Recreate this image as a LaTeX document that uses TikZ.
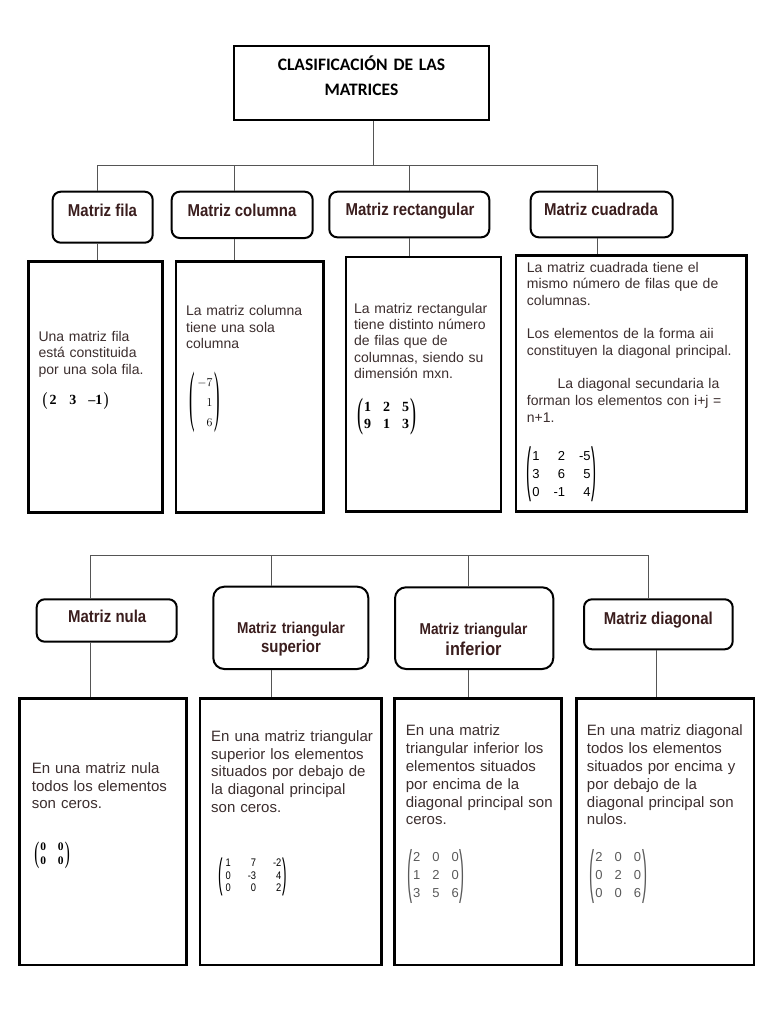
\documentclass[tikz,border=0pt]{standalone}
\usepackage[no-math]{fontspec}
\usepackage{graphicx}
\setmainfont{Liberation Sans}
\newfontfamily\titlef{Carlito}
\newfontfamily\labf{Liberation Sans}[FakeStretch=0.87]
\newfontfamily\narrowf{Liberation Sans}[FakeStretch=0.85]
\newfontfamily\serf{Liberation Serif}
\usetikzlibrary{calc}
\definecolor{txt}{HTML}{3C2E2E}
\definecolor{lab}{HTML}{3A1D1D}
\definecolor{conncol}{HTML}{555555}
\definecolor{lightm}{HTML}{5A5A5A}
% #1 total height of parentheses, #2 their width, #3 content
\newcommand\mparen[3]{$\vcenter{\hbox{\resizebox*{#2}{#1}{\mdseries(}}}\vcenter{\hbox{#3}}\vcenter{\hbox{\resizebox*{#2}{#1}{\mdseries)}}}$}
\newsavebox\bxA \newsavebox\bxB \newsavebox\bxC \newsavebox\bxD
\newsavebox\bxE \newsavebox\bxF \newsavebox\bxG \newsavebox\bxH
\tikzset{
 connline/.style={draw=conncol, line width=0.9pt},
 titlebox/.style={draw=black, line width=2.4pt, rectangle, inner sep=0pt},
 labbox/.style={draw=black, line width=2pt, rounded corners=8pt, rectangle, inner sep=0pt},
 descbox/.style={draw=black, line width=2.5pt, rectangle, inner sep=0pt},
 labtext/.style={text=lab, font=\labf\bfseries\fontsize{17.2}{20}\selectfont, inner sep=0pt, anchor=base, align=center},
 desctop/.style={text=txt, font=\fontsize{14}{16.7}\selectfont, inner sep=0pt, anchor=base west, align=left},
 descbot/.style={text=txt, font=\fontsize{15}{17.85}\selectfont, inner sep=0pt, anchor=base west, align=left},
 matnode/.style={inner sep=0pt},
}
\begin{document}
\sbox\bxA{\serf\bfseries\fontsize{14}{16}\selectfont\mparen{17pt}{5pt}{\begin{tabular}{@{\hspace{2pt}}c@{\hspace{13pt}}c@{\hspace{12pt}}c@{\hspace{1pt}}}2&3&–1\end{tabular}}}%
\sbox\bxB{\serf\fontsize{13}{16}\selectfont\renewcommand\arraystretch{1.25}\mparen{61pt}{5.5pt}{$\begin{array}{@{\hspace{2pt}}r@{\hspace{2pt}}}-7\\1\\6\end{array}$}}%
\sbox\bxC{\serf\bfseries\fontsize{14}{17}\selectfont\mparen{37pt}{6pt}{\begin{tabular}{@{\hspace{1pt}}c@{\hspace{12pt}}c@{\hspace{12pt}}c@{\hspace{1pt}}}1&2&5\\9&1&3\end{tabular}}}%
\sbox\bxD{\fontsize{13}{18}\selectfont\mparen{55pt}{5pt}{\begin{tabular}{@{\hspace{1pt}}l@{\hspace{14pt}}r@{\hspace{14pt}}r@{\hspace{1pt}}}1&2&-5\\3&6&5\\0&-1&4\end{tabular}}}%
\sbox\bxE{\serf\bfseries\fontsize{11.5}{13.5}\selectfont\mparen{27pt}{5pt}{\begin{tabular}{@{\hspace{1pt}}c@{\hspace{12pt}}c@{\hspace{1pt}}}0&0\\0&0\end{tabular}}}%
\sbox\bxF{\narrowf\fontsize{11}{12.8}\selectfont\mparen{38pt}{4.5pt}{\begin{tabular}{@{\hspace{3pt}}l@{\hspace{17pt}}r@{\hspace{17pt}}r@{\hspace{1pt}}}1&7&-2\\0&-3&4\\0&0&2\end{tabular}}}%
\sbox\bxG{\color{lightm}\fontsize{13}{18}\selectfont\mparen{54pt}{5pt}{\begin{tabular}{@{\hspace{1pt}}c@{\hspace{12pt}}c@{\hspace{12pt}}c@{\hspace{1pt}}}2&0&0\\1&2&0\\3&5&6\end{tabular}}}%
\sbox\bxH{\color{lightm}\fontsize{13}{18}\selectfont\mparen{54pt}{5pt}{\begin{tabular}{@{\hspace{1pt}}c@{\hspace{12pt}}c@{\hspace{12pt}}c@{\hspace{1pt}}}2&0&0\\0&2&0\\0&0&6\end{tabular}}}%
\begin{tikzpicture}[x=1pt,y=-1pt]
\fill[white] (0,0) rectangle (768,1024);
\useasboundingbox (0,0) rectangle (768,1024);

% ---------- title ----------
\node[titlebox, minimum width=255pt, minimum height=74pt] (title) at (361.5,83) {};
\node[inner sep=0pt, anchor=base, text width=250pt, align=center, text=black, font=\titlef\bfseries\fontsize{17.5}{24.5}\selectfont] (titleT) at (361.5,71) {CLASIFICACIÓN DE LAS\\MATRICES};

% ---------- top label boxes ----------
\node[labbox, minimum width=100pt, minimum height=51pt] (fila) at (102.7,217.2) {};
\node[labbox, minimum width=141pt, minimum height=46.3pt] (colu) at (242.2,214.85) {};
\node[labbox, minimum width=160pt, minimum height=45.6pt] (rect) at (409.3,214.5) {};
\node[labbox, minimum width=142pt, minimum height=45.6pt] (cuad) at (601.7,214.5) {};
\node[labtext] (filaT) at (102.5,216.1) {Matriz fila};
\node[labtext] (coluT) at (242,216.1) {Matriz columna};
\node[labtext] (rectT) at (410,215.1) {Matriz rectangular};
\node[labtext] (cuadT) at (601,215.1) {Matriz cuadrada};

% ---------- top description boxes ----------
\node[descbox, minimum width=134.4pt, minimum height=250.8pt] (d1) at (95.5,387.1) {};
\node[descbox, minimum width=147.3pt, minimum height=250.8pt] (d2) at (249.65,387.1) {};
\node[descbox, minimum width=155pt, minimum height=254.7pt] (d3) at (423.5,384.35) {};
\node[descbox, minimum width=230.7pt, minimum height=256.2pt] (d4) at (631.35,383.6) {};

\node[desctop, text width=120pt] (t1) at (38.3,341) {Una matriz fila\\está constituida\\por una sola fila.};
\node[desctop, text width=132pt] (t2) at (186,315.3) {La matriz columna\\tiene una sola\\columna};
\node[desctop, text width=144pt, font=\fontsize{14}{16.4}\selectfont] (t3) at (354,313) {La matriz rectangular\\tiene distinto número\\de filas que de\\columnas, siendo su\\dimensión mxn.};
\node[desctop, text width=218pt] (t4) at (526.7,272) {La matriz cuadrada tiene el\\mismo número de filas que de\\columnas.\\[16.7pt]Los elementos de la forma aii\\constituyen la diagonal principal.\\[16.7pt]\hspace*{30.6pt}La diagonal secundaria la\\forman los elementos con i+j =\\n+1.};

% matrices top row
\node[matnode] (m1) at (75.5,401) {\usebox\bxA};
\node[matnode] (m2) at (205,402) {\usebox\bxB};
\node[matnode] (m3) at (386.5,416.5) {\usebox\bxC};
\node[matnode] (m4) at (561.5,474.5) {\usebox\bxD};

% ---------- top connectors ----------
\coordinate (busA) at (373.3,165);
\coordinate (a1) at (97.7,165);
\coordinate (a2) at (234.3,165);
\coordinate (a3) at (409.3,165);
\coordinate (a4) at (597.7,165);
\draw[connline] (title.south -| busA) -- (busA);
\draw[connline] (fila.north -| a1) -- (a1) -- (a4) -- (cuad.north -| a4);
\draw[connline] (colu.north -| a2) -- (a2);
\draw[connline] (rect.north -| a3) -- (a3);
\draw[connline] (fila.south -| a1) -- (d1.north -| a1);
\draw[connline] (colu.south -| a2) -- (d2.north -| a2);
\draw[connline] (rect.south -| a3) -- (d3.north -| a3);
\draw[connline] (cuad.south -| a4) -- (d4.north -| a4);

% ---------- bottom label boxes ----------
\node[labbox, minimum width=140pt, minimum height=42.4pt] (nula) at (106.7,620.5) {};
\node[labbox, rounded corners=11pt, minimum width=155pt, minimum height=82.3pt] (sup) at (290.8,627.85) {};
\node[labbox, rounded corners=11pt, minimum width=158.3pt, minimum height=81.7pt] (inf) at (474.15,628.15) {};
\node[labbox, minimum width=148.7pt, minimum height=50pt] (diag) at (658.35,624.3) {};
\node[labtext] (nulaT) at (107.2,622.8) {Matriz nula};
\node[labtext] (diagT) at (658.3,624.4) {Matriz diagonal};
\node[labtext, text width=150pt, font=\labf\bfseries\fontsize{15.7}{18.9}\selectfont] (supT) at (291,633.9) {Matriz triangular\\{\fontsize{17.2}{18.9}\selectfont superior}};
\node[labtext, text width=150pt, font=\labf\bfseries\fontsize{15.7}{20.6}\selectfont] (infT) at (473.5,634.9) {Matriz triangular\\{\fontsize{18.7}{20.6}\selectfont inferior}};

% ---------- bottom description boxes ----------
\node[descbox, minimum width=167.4pt, minimum height=266.7pt] (e1) at (103,831.65) {};
\node[descbox, minimum width=181.7pt, minimum height=266.7pt] (e2) at (290.85,831.65) {};
\node[descbox, minimum width=167.4pt, minimum height=266.7pt] (e3) at (478,831.65) {};
\node[descbox, minimum width=177.3pt, minimum height=266.7pt] (e4) at (665.35,831.65) {};

\node[descbot, text width=150pt] (u1) at (31.7,773.2) {En una matriz nula\\todos los elementos\\son ceros.};
\node[descbot, text width=166pt] (u2) at (211,741.2) {En una matriz triangular\\superior los elementos\\situados por debajo de\\la diagonal principal\\son ceros.};
\node[descbot, text width=152pt] (u3) at (405.7,735.6) {En una matriz\\triangular inferior los\\elementos situados\\por encima de la\\diagonal principal son\\ceros.};
\node[descbot, text width=162pt] (u4) at (586.7,735.6) {En una matriz diagonal\\todos los elementos\\situados por encima y\\por debajo de la\\diagonal principal son\\nulos.};

% matrices bottom row
\node[matnode] (n1) at (52,855) {\usebox\bxE};
\node[matnode] (n2) at (252.5,876.5) {\usebox\bxF};
\node[matnode] (n3) at (436,876) {\usebox\bxG};
\node[matnode] (n4) at (618.3,876) {\usebox\bxH};

% ---------- bottom connectors ----------
\coordinate (b1) at (90.7,555);
\coordinate (b2) at (271.7,555);
\coordinate (b3) at (468.3,555);
\coordinate (b4) at (648.3,555);
\coordinate (b4d) at (656,650);
\draw[connline] (nula.north -| b1) -- (b1) -- (b4) -- (diag.north -| b4);
\draw[connline] (sup.north -| b2) -- (b2);
\draw[connline] (inf.north -| b3) -- (b3);
\draw[connline] (nula.south -| b1) -- (e1.north -| b1);
\draw[connline] (sup.south -| b2) -- (e2.north -| b2);
\draw[connline] (inf.south -| b3) -- (e3.north -| b3);
\draw[connline] (diag.south -| b4d) -- (e4.north -| b4d);
\end{tikzpicture}
\end{document}
